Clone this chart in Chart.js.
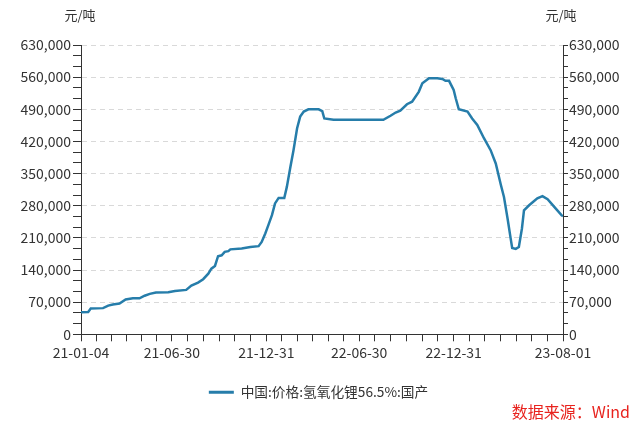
<!DOCTYPE html>
<html>
<head>
<meta charset="utf-8">
<script src="https://cdn.jsdelivr.net/npm/chart.js@4.4.0/dist/chart.umd.min.js"></script>
<style>
  html, body { margin: 0; padding: 0; background: #fff; }
  #wrap { width: 637px; height: 426px; position: relative; }
</style>
</head>
<body>
<div id="wrap"><canvas id="lithium"></canvas></div>
<script>
// 数据（元/吨），日期 + 价格
var dates = [
  '2021-01-04','2021-01-18','2021-01-23','2021-02-16','2021-02-26','2021-03-07','2021-03-20',
  '2021-04-01','2021-04-15','2021-04-28','2021-05-08','2021-05-18','2021-05-30','2021-06-23',
  '2021-07-06','2021-07-28','2021-08-07','2021-08-20','2021-08-30','2021-09-09','2021-09-15',
  '2021-09-22','2021-09-28','2021-10-05','2021-10-11','2021-10-18','2021-10-22','2021-11-13',
  '2021-11-30','2021-12-16','2021-12-22','2021-12-29','2022-01-04','2022-01-11','2022-01-17',
  '2022-01-24','2022-02-04','2022-02-09','2022-02-16','2022-02-22','2022-03-01','2022-03-07',
  '2022-03-14','2022-03-23','2022-04-12','2022-04-19','2022-04-23','2022-05-11','2022-08-16',
  '2022-08-30','2022-09-09','2022-09-18','2022-10-01','2022-10-11','2022-10-24','2022-10-31',
  '2022-11-13','2022-11-29','2022-12-09','2022-12-15','2022-12-22','2022-12-31','2023-01-04',
  '2023-01-10','2023-01-27','2023-02-05','2023-02-15','2023-02-28','2023-03-13','2023-03-23',
  '2023-04-02','2023-04-08','2023-04-15','2023-04-21','2023-04-24','2023-05-01','2023-05-07',
  '2023-05-13','2023-05-17','2023-05-27','2023-06-12','2023-06-22','2023-07-02','2023-07-15',
  '2023-07-29','2023-08-01'
];
var prices = [
  48000, 48500, 56000, 57000, 62500, 65000, 67000,
  75700, 78500, 78500, 84000, 88000, 91000, 91600,
  94500, 96700, 106000, 112700, 120000, 132000, 143000,
  149000, 170000, 172000, 179500, 181000, 185000, 187000,
  190000, 192000, 201000, 219600, 237700, 259500, 285000,
  297000, 297000, 321000, 365000, 401000, 448600, 474000,
  485000, 490000, 490000, 486000, 470000, 467000, 467000,
  476000, 483000, 487000, 501000, 506500, 528000, 546700,
  557600, 557600, 556000, 552000, 552000, 532000, 514000,
  490000, 485000, 470000, 456000, 427000, 401000, 372000,
  325000, 299000, 252000, 209000, 188000, 186000, 190000,
  230500, 270000, 281000, 296000, 301000, 294000, 277600,
  259500, 257000
];
var xTickLabels = ['21-01-04', '21-06-30', '21-12-31', '22-06-30', '22-12-31', '23-08-01'];
var seriesName = '中国:价格:氢氧化锂56.5%:国产';
var unitLabel = '元/吨';
var sourceLabel = '数据来源：Wind';

var FONT = '"Microsoft YaHei", "Noto Sans CJK SC", sans-serif';
var LINE_COLOR = 'rgb(38,125,170)';
var AXIS_COLOR = '#333333';

function dayOf(s) {
  var p = s.split('-');
  return (Date.UTC(+p[0], +p[1] - 1, +p[2]) - Date.UTC(2021, 0, 4)) / 864e5;
}

var points = dates.map(function (d, i) { return { x: dayOf(d), y: prices[i] }; });
var majorDays = xTickLabels.map(function (l) { return dayOf('20' + l); });

// 主刻度之间按约一个月细分
var xTicks = [];
for (var i = 0; i < majorDays.length - 1; i++) {
  var a = majorDays[i], b = majorDays[i + 1];
  var n = Math.round((b - a) / 30);
  for (var k = 0; k < n; k++) xTicks.push(a + (b - a) * k / n);
}
xTicks.push(majorDays[majorDays.length - 1]);

var yMax = 630000, yStep = 70000;
function yTicksFor(scale) {
  var t = [];
  for (var j = 0; j <= 27; j++) t.push({ value: j * yStep / 3 });
  scale.ticks = t;
}
function yLabel(value, index) {
  return index % 3 === 0 ? (index / 3 * yStep).toLocaleString('en-US') : '';
}
function yGridColor(ctx) {
  if (!ctx.tick) return 'transparent';
  return (ctx.index % 3 === 0 && ctx.index > 0) ? '#d9d9d9' : 'transparent';
}

var textPlugin = {
  id: 'extraText',
  afterDraw: function (chart) {
    var c = chart.ctx;
    c.save();
    c.font = '13px ' + FONT;
    c.fillStyle = AXIS_COLOR;
    c.textBaseline = 'middle';
    c.textAlign = 'center';
    c.fillText(unitLabel, 80, 15);
    c.fillText(unitLabel, 561, 15);
    c.font = '16px ' + FONT;
    c.fillStyle = '#e8231e';
    c.textAlign = 'right';
    c.fillText(sourceLabel, 630, 412);
    c.restore();
  }
};

new Chart(document.getElementById('lithium'), {
  type: 'line',
  data: {
    datasets: [{
      label: seriesName,
      data: points,
      borderColor: LINE_COLOR,
      backgroundColor: LINE_COLOR,
      borderWidth: 2.5,
      pointRadius: 0,
      tension: 0,
      yAxisID: 'y'
    }]
  },
  options: {
    responsive: true,
    maintainAspectRatio: false,
    animation: false,
    layout: { padding: { top: 45, bottom: 17, left: 0, right: 0 } },
    plugins: {
      legend: {
        position: 'bottom',
        labels: {
          boxWidth: 25,
          boxHeight: 3,
          padding: 8,
          color: AXIS_COLOR,
          font: { family: FONT, size: 13.7 },
          generateLabels: function (chart) {
            var items = Chart.defaults.plugins.legend.labels.generateLabels(chart);
            items.forEach(function (it) { it.lineWidth = 0; });
            return items;
          }
        }
      },
      tooltip: { enabled: false }
    },
    scales: {
      x: {
        type: 'linear',
        min: 0,
        max: majorDays[majorDays.length - 1],
        afterBuildTicks: function (s) { s.ticks = xTicks.map(function (v) { return { value: v }; }); },
        afterFit: function (s) { s.height = 43; },
        border: { display: true, color: AXIS_COLOR, width: 1 },
        grid: { drawOnChartArea: false, drawTicks: true, tickLength: 7, tickColor: AXIS_COLOR },
        ticks: {
          autoSkip: false,
          maxRotation: 0,
          padding: 3,
          color: AXIS_COLOR,
          font: { family: FONT, size: 14 },
          callback: function (v) {
            var idx = majorDays.indexOf(v);
            return idx >= 0 ? xTickLabels[idx] : '';
          }
        }
      },
      y: {
        position: 'left',
        min: 0,
        max: yMax,
        afterBuildTicks: yTicksFor,
        afterFit: function (s) { s.width = 81; },
        border: { display: true, color: AXIS_COLOR, width: 1, dash: [5, 4] },
        grid: { color: yGridColor, drawTicks: true, tickLength: 8, tickColor: AXIS_COLOR },
        ticks: {
          autoSkip: false,
          padding: 2,
          color: AXIS_COLOR,
          font: { family: FONT, size: 14 },
          callback: yLabel
        }
      },
      y2: {
        position: 'right',
        min: 0,
        max: yMax,
        afterBuildTicks: yTicksFor,
        afterFit: function (s) { s.width = 74; },
        border: { display: true, color: AXIS_COLOR, width: 1 },
        grid: { drawOnChartArea: false, drawTicks: true, tickLength: 5, tickColor: AXIS_COLOR },
        ticks: {
          autoSkip: false,
          padding: 1,
          color: AXIS_COLOR,
          font: { family: FONT, size: 14 },
          callback: yLabel
        }
      }
    }
  },
  plugins: [textPlugin]
});
</script>
</body>
</html>
